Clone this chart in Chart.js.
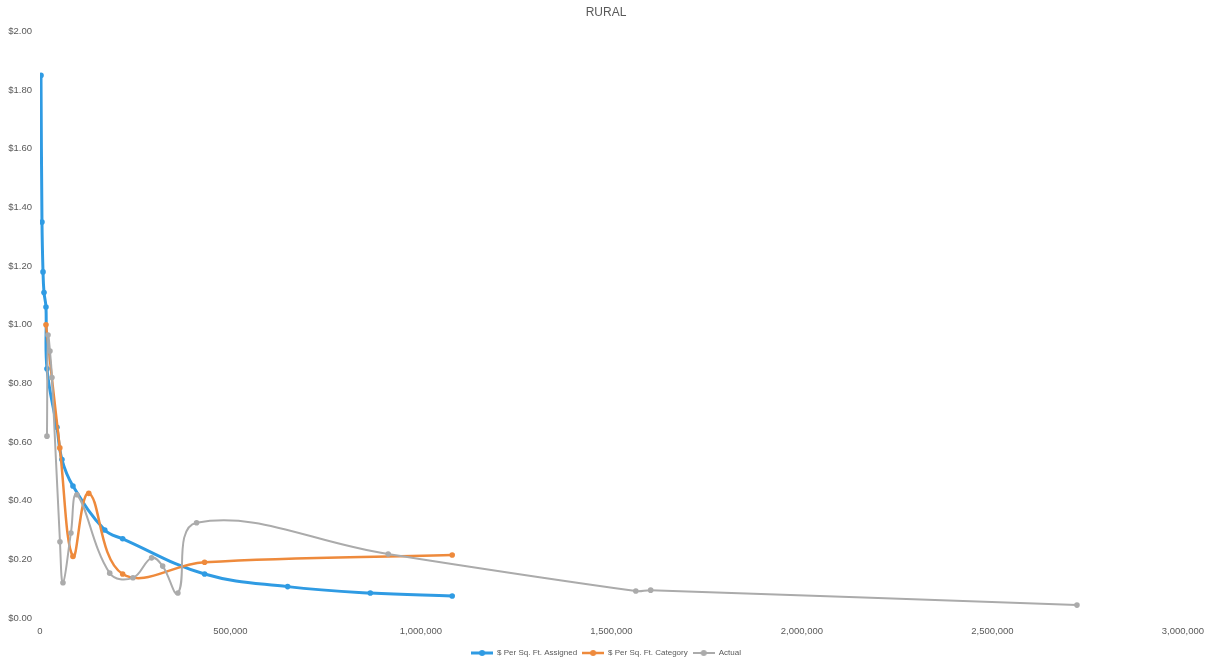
<!DOCTYPE html>
<html>
<head>
<meta charset="utf-8">
<title>RURAL</title>
<script src="https://cdn.jsdelivr.net/npm/chart.js@4.4.1/dist/chart.umd.min.js"></script>
<style>
  html, body { margin: 0; padding: 0; background: #fff; }
  #wrap { width: 1212px; height: 665px; }
</style>
</head>
<body>
<div id="wrap"><canvas id="rural"></canvas></div>
<script>
// Значения (x — кв. футы, y — $ за кв. фут)
const assignedX = [2600, 5200, 7900, 10500, 15700, 18300, 44500, 57600, 86500, 170000, 217000, 432000, 650000, 867000, 1082000];
const assignedY = [1.85, 1.35, 1.18, 1.11, 1.06, 0.85, 0.65, 0.54, 0.45, 0.30, 0.27, 0.15, 0.107, 0.085, 0.075];

const categoryX = [15700, 52000, 86500, 128000, 217000, 432000, 1082000];
const categoryY = [1.00, 0.58, 0.21, 0.425, 0.15, 0.19, 0.215];

const actualX = [18300, 21000, 26200, 31400, 52400, 60300, 81200, 96900, 183000, 244000, 293000, 322000, 362000, 411000, 914000, 1564000, 1603000, 2722000];
const actualY = [0.62, 0.965, 0.91, 0.82, 0.26, 0.12, 0.29, 0.42, 0.153, 0.137, 0.205, 0.177, 0.085, 0.325, 0.218, 0.092, 0.095, 0.044];

const xTicks = [0, 500000, 1000000, 1500000, 2000000, 2500000, 3000000];

const seriesNames = ['$ Per Sq. Ft. Assigned', '$ Per Sq. Ft. Category', 'Actual'];
const COLORS = ['#2f9be3', '#ee8a3c', '#ababab'];
const FONT = 'Liberation Sans';
const TEXT = '#595959';

const toPoints = (xs, ys) => xs.map((x, i) => ({ x, y: ys[i] }));

// маркер легенды: отрезок линии с кружком посередине
function legendMarker(color, lw) {
  const c = document.createElement('canvas');
  c.width = 22; c.height = 8;
  const ctx = c.getContext('2d');
  ctx.strokeStyle = color; ctx.lineWidth = lw;
  ctx.beginPath(); ctx.moveTo(0, 4); ctx.lineTo(22, 4); ctx.stroke();
  ctx.fillStyle = color;
  ctx.beginPath(); ctx.arc(11, 4, 3, 0, Math.PI * 2); ctx.fill();
  return c;
}
const markers = [legendMarker(COLORS[0], 3), legendMarker(COLORS[1], 2.5), legendMarker(COLORS[2], 2)];

// order: серый поверх оранжевого, оранжевый поверх синего (как в Excel)
const mk = (i, pts, lw, order) => ({
  label: seriesNames[i], data: pts,
  borderColor: COLORS[i], backgroundColor: COLORS[i],
  borderWidth: lw, pointRadius: 2.8, pointHoverRadius: 4,
  pointBorderWidth: 0, showLine: true, tension: 0.4, fill: false, order,
});

new Chart(document.getElementById('rural'), {
  type: 'scatter',
  data: {
    datasets: [
      mk(0, toPoints(assignedX, assignedY), 3, 3),
      mk(1, toPoints(categoryX, categoryY), 2.5, 2),
      mk(2, toPoints(actualX, actualY), 2, 1),
    ],
  },
  options: {
    responsive: true, maintainAspectRatio: false, animation: false,
    layout: { padding: { left: 0, right: 0, top: 1, bottom: -2 } },
    plugins: {
      title: { display: true, text: 'RURAL', color: TEXT, font: { family: FONT, size: 12, weight: 'normal' }, padding: { top: 4, bottom: 12 } },
      legend: {
        display: true, position: 'bottom',
        labels: {
          color: TEXT, font: { family: FONT, size: 8 }, padding: 5,
          usePointStyle: true, pointStyleWidth: 22, boxHeight: 8,
          sort: (a, b) => a.datasetIndex - b.datasetIndex,
          generateLabels: (chart) => Chart.defaults.plugins.legend.labels.generateLabels(chart)
            .map((l) => ({ ...l, pointStyle: markers[l.datasetIndex] })),
        },
      },
      tooltip: { enabled: true },
    },
    scales: {
      x: {
        type: 'linear', min: 0, max: 3000000,
        afterBuildTicks: (s) => { s.ticks = xTicks.map(v => ({ value: v })); },
        afterFit: (s) => { s.height = 26; },
        grid: { display: false, drawTicks: false }, border: { display: false },
        ticks: { padding: 8, color: TEXT, font: { family: FONT, size: 9.5 }, maxRotation: 0, callback: (v) => v.toLocaleString('en-US') },
      },
      y: {
        type: 'linear', min: 0, max: 2,
        afterFit: (s) => { s.width = 40; },
        grid: { display: false, drawTicks: false }, border: { display: false },
        ticks: { stepSize: 0.2, padding: 8, color: TEXT, font: { family: FONT, size: 9.5 }, callback: (v) => '$' + Number(v).toFixed(2) },
      },
      // пустая правая ось — только отступ справа, чтобы заголовок и легенда были по центру
      yPad: {
        type: 'linear', position: 'right', min: 0, max: 2,
        afterFit: (s) => { s.width = 27; },
        grid: { display: false, drawTicks: false }, border: { display: false },
        ticks: { display: false },
      },
    },
  },
});
</script>
</body>
</html>
